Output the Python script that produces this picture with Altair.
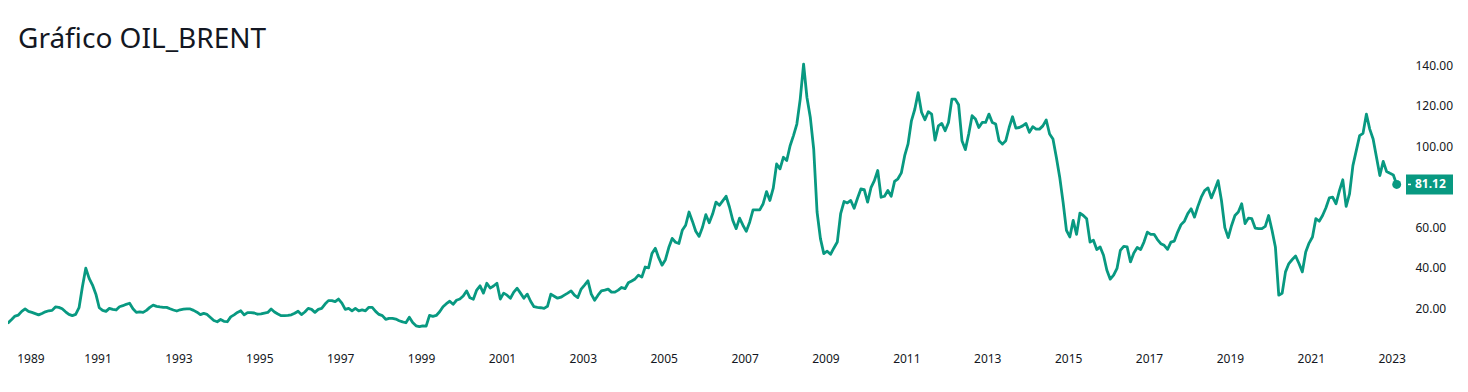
import altair as alt
import pandas as pd

TITLE = "Gráfico OIL_BRENT"
LINE_COLOR = "#089981"
TEXT_COLOR = "#131722"
FONT = "Noto Sans"

# Monthly Brent values (USD/bbl)
y1988 = [15.1, 12.4, 12.9, 14.5, 16.2]  # Aug-Dec
y1989 = [16.7, 18.5, 19.7, 18.5, 18.0, 17.4, 16.8, 17.5, 18.3, 18.8, 19.0, 20.7]
y1990 = [20.5, 19.8, 18.3, 17.0, 16.4, 17.0, 20.3, 30.7, 39.8, 34.8, 31.5, 27.0]
y1991 = [20.3, 19.0, 18.5, 20.0, 19.5, 19.2, 20.8, 21.3, 22.0, 22.5, 19.8, 18.0]
y1992 = [18.3, 18.0, 19.0, 20.5, 21.6, 21.0, 20.7, 20.5, 20.5, 19.8, 19.2, 18.7]
y1993 = [19.3, 19.6, 19.7, 19.7, 19.0, 18.1, 16.9, 17.5, 17.0, 15.5, 14.0, 13.4]
y1994 = [14.5, 13.6, 13.4, 15.8, 16.8, 18.0, 18.8, 16.8, 17.9, 17.9, 17.7, 17.1]
y1995 = [17.3, 17.7, 18.0, 19.7, 18.2, 17.2, 16.4, 16.4, 16.5, 16.8, 17.6, 18.6]
y1996 = [16.9, 18.2, 20.0, 19.5, 18.0, 19.5, 20.0, 22.1, 23.8, 23.8, 23.3, 24.6]
y1997 = [22.6, 19.5, 20.0, 18.8, 20.0, 18.8, 19.2, 18.8, 20.5, 20.5, 18.5, 17.0]
y1998 = [16.4, 14.6, 15.1, 15.1, 14.7, 13.9, 13.3, 12.9, 15.6, 13.0, 11.4, 11.0]
y1999 = [11.4, 11.2, 16.5, 16.0, 16.5, 18.3, 20.8, 22.3, 23.5, 22.0, 24.0, 24.6]
y2000 = [26.1, 28.6, 25.2, 24.5, 29.0, 31.1, 27.5, 32.4, 30.0, 31.0, 32.4, 24.6]
y2001 = [27.5, 26.5, 25.0, 28.0, 29.9, 27.5, 25.0, 27.0, 23.5, 20.8, 20.5, 20.3]
y2002 = [20.0, 21.0, 27.0, 26.0, 25.0, 25.5, 26.5, 27.5, 28.6, 26.5, 25.3, 29.5]
y2003 = [31.5, 33.6, 27.0, 24.0, 26.5, 28.6, 29.0, 29.5, 28.0, 28.0, 29.0, 30.3]
y2004 = [29.7, 32.6, 33.5, 34.5, 36.4, 35.4, 40.4, 40.0, 47.0, 49.6, 45.0, 41.3]
y2005 = [44.0, 50.0, 54.5, 52.6, 52.0, 58.5, 61.0, 67.5, 63.0, 58.0, 55.5, 60.0]
y2006 = [66.2, 62.2, 66.5, 72.4, 70.8, 73.0, 75.3, 70.0, 63.4, 59.3, 64.5, 61.0]
y2007 = [58.0, 62.5, 68.6, 68.6, 68.6, 71.6, 77.6, 73.2, 79.3, 91.2, 88.8, 94.5]
y2008 = [92.9, 100.2, 105.2, 110.9, 123.2, 140.4, 124.0, 114.1, 98.6, 67.5, 54.4, 47.0]
y2009 = [48.2, 46.7, 49.8, 52.7, 66.7, 72.7, 72.0, 73.2, 69.4, 74.3, 78.9, 78.6]
y2010 = [72.4, 79.5, 83.0, 88.0, 74.8, 75.3, 78.1, 75.3, 82.6, 83.9, 86.8, 95.3]
y2011 = [101.1, 112.5, 118.2, 126.4, 116.7, 113.0, 117.0, 115.8, 103.0, 110.0, 111.2, 107.6]
y2012 = [111.7, 123.2, 123.2, 120.4, 102.7, 98.3, 106.0, 115.0, 113.4, 109.2, 111.7, 111.7]
y2013 = [115.8, 111.7, 110.9, 102.7, 101.0, 102.7, 109.2, 114.5, 108.9, 109.2, 110.0, 111.2]
y2014 = [106.8, 109.6, 108.4, 108.4, 110.0, 112.9, 106.0, 103.5, 94.5, 84.7, 72.4, 58.5]
y2015 = [55.2, 63.4, 56.5, 67.0, 65.8, 64.2, 52.7, 53.6, 49.0, 50.3, 46.2, 38.8]
y2016 = [34.4, 36.4, 39.7, 48.6, 50.6, 50.3, 42.9, 47.3, 50.0, 49.0, 52.7, 57.6]
y2017 = [56.5, 56.5, 53.9, 51.9, 51.1, 49.1, 52.7, 53.2, 57.6, 61.3, 63.0, 66.7]
y2018 = [69.1, 65.0, 70.3, 74.8, 78.1, 79.4, 74.5, 78.5, 83.0, 73.2, 59.8, 54.9]
y2019 = [60.9, 65.8, 67.5, 71.6, 61.8, 64.5, 64.2, 59.6, 59.3, 59.3, 60.4, 65.8]
y2020 = [58.5, 50.3, 26.5, 27.4, 38.0, 42.1, 44.1, 45.8, 42.1, 38.0, 47.8, 52.2]
y2021 = [55.2, 64.2, 63.0, 65.8, 69.6, 74.5, 74.8, 71.6, 78.1, 83.4, 70.3, 76.5]
y2022 = [90.4, 97.8, 105.2, 106.3, 115.8, 108.4, 103.5, 94.5, 85.5, 92.5, 87.5, 86.6]
y2023 = [85.8, 81.12]  # Jan-Feb

series = [
    (1988, 8, y1988), (1989, 1, y1989), (1990, 1, y1990), (1991, 1, y1991),
    (1992, 1, y1992), (1993, 1, y1993), (1994, 1, y1994), (1995, 1, y1995),
    (1996, 1, y1996), (1997, 1, y1997), (1998, 1, y1998), (1999, 1, y1999),
    (2000, 1, y2000), (2001, 1, y2001), (2002, 1, y2002), (2003, 1, y2003),
    (2004, 1, y2004), (2005, 1, y2005), (2006, 1, y2006), (2007, 1, y2007),
    (2008, 1, y2008), (2009, 1, y2009), (2010, 1, y2010), (2011, 1, y2011),
    (2012, 1, y2012), (2013, 1, y2013), (2014, 1, y2014), (2015, 1, y2015),
    (2016, 1, y2016), (2017, 1, y2017), (2018, 1, y2018), (2019, 1, y2019),
    (2020, 1, y2020), (2021, 1, y2021), (2022, 1, y2022), (2023, 1, y2023),
]

x_ticks = list(range(1989, 2024, 2))
y_labels = [20, 40, 60, 100, 120, 140]
x_domain = [1988.785, 2023.33]
y_domain = [2.91, 168.14]

rows = []
for year, start, vals in series:
    for i, v in enumerate(vals):
        m = start + i
        rows.append({"t": year + (m - 0.5) / 12.0, "v": v})
df = pd.DataFrame(rows)
last = df.tail(1)

x_enc = alt.X(
    "t:Q",
    scale=alt.Scale(domain=x_domain, nice=False, zero=False),
    axis=alt.Axis(values=x_ticks, format="d", title=None, grid=False, domain=False,
                  ticks=False, labelPadding=10, labelFontSize=12, labelFont=FONT,
                  labelColor=TEXT_COLOR, labelFlush=10),
)
y_enc = alt.Y(
    "v:Q",
    scale=alt.Scale(domain=y_domain, nice=False, zero=False),
    axis=alt.Axis(orient="right", values=y_labels, format=".2f", title=None, grid=False,
                  domain=False, ticks=False, labelPadding=10, labelFontSize=12,
                  labelFont=FONT, labelColor=TEXT_COLOR, labelAlign="left"),
)

line = alt.Chart(df).mark_line(
    color=LINE_COLOR, strokeWidth=2.8, clip=True, strokeJoin="round"
).encode(x=x_enc, y=y_enc)

dot = alt.Chart(last).mark_point(
    filled=True, size=80, color=LINE_COLOR, opacity=1
).encode(x="t:Q", y="v:Q")

badge = alt.Chart(last).mark_rect(color=LINE_COLOR, height=20).encode(
    x=alt.value(1398), x2=alt.value(1445), y="v:Q"
)

tick = alt.Chart(last).mark_rule(color="white", strokeWidth=1.5).encode(
    x=alt.value(1400), x2=alt.value(1403), y="v:Q"
)

label = alt.Chart(last).mark_text(
    align="left", baseline="middle", color="white", fontWeight="bold",
    fontSize=12, font=FONT
).encode(x=alt.value(1407), y="v:Q", text=alt.Text("v:Q", format=".2f"))

title = alt.Chart(pd.DataFrame({"s": [TITLE]})).mark_text(
    align="left", baseline="alphabetic", fontSize=28, font=FONT, color=TEXT_COLOR
).encode(x=alt.value(10), y=alt.value(40), text="s:N")

chart = alt.layer(line, dot, badge, tick, label, title).properties(
    width=1397, height=335,
    autosize=alt.AutoSizeParams(type="none"),
    padding={"left": 0, "top": 0, "right": 55, "bottom": 40},
    background="white",
).configure_view(stroke=None)

chart.save("out.html", embed_options={"renderer": "svg", "actions": False})
